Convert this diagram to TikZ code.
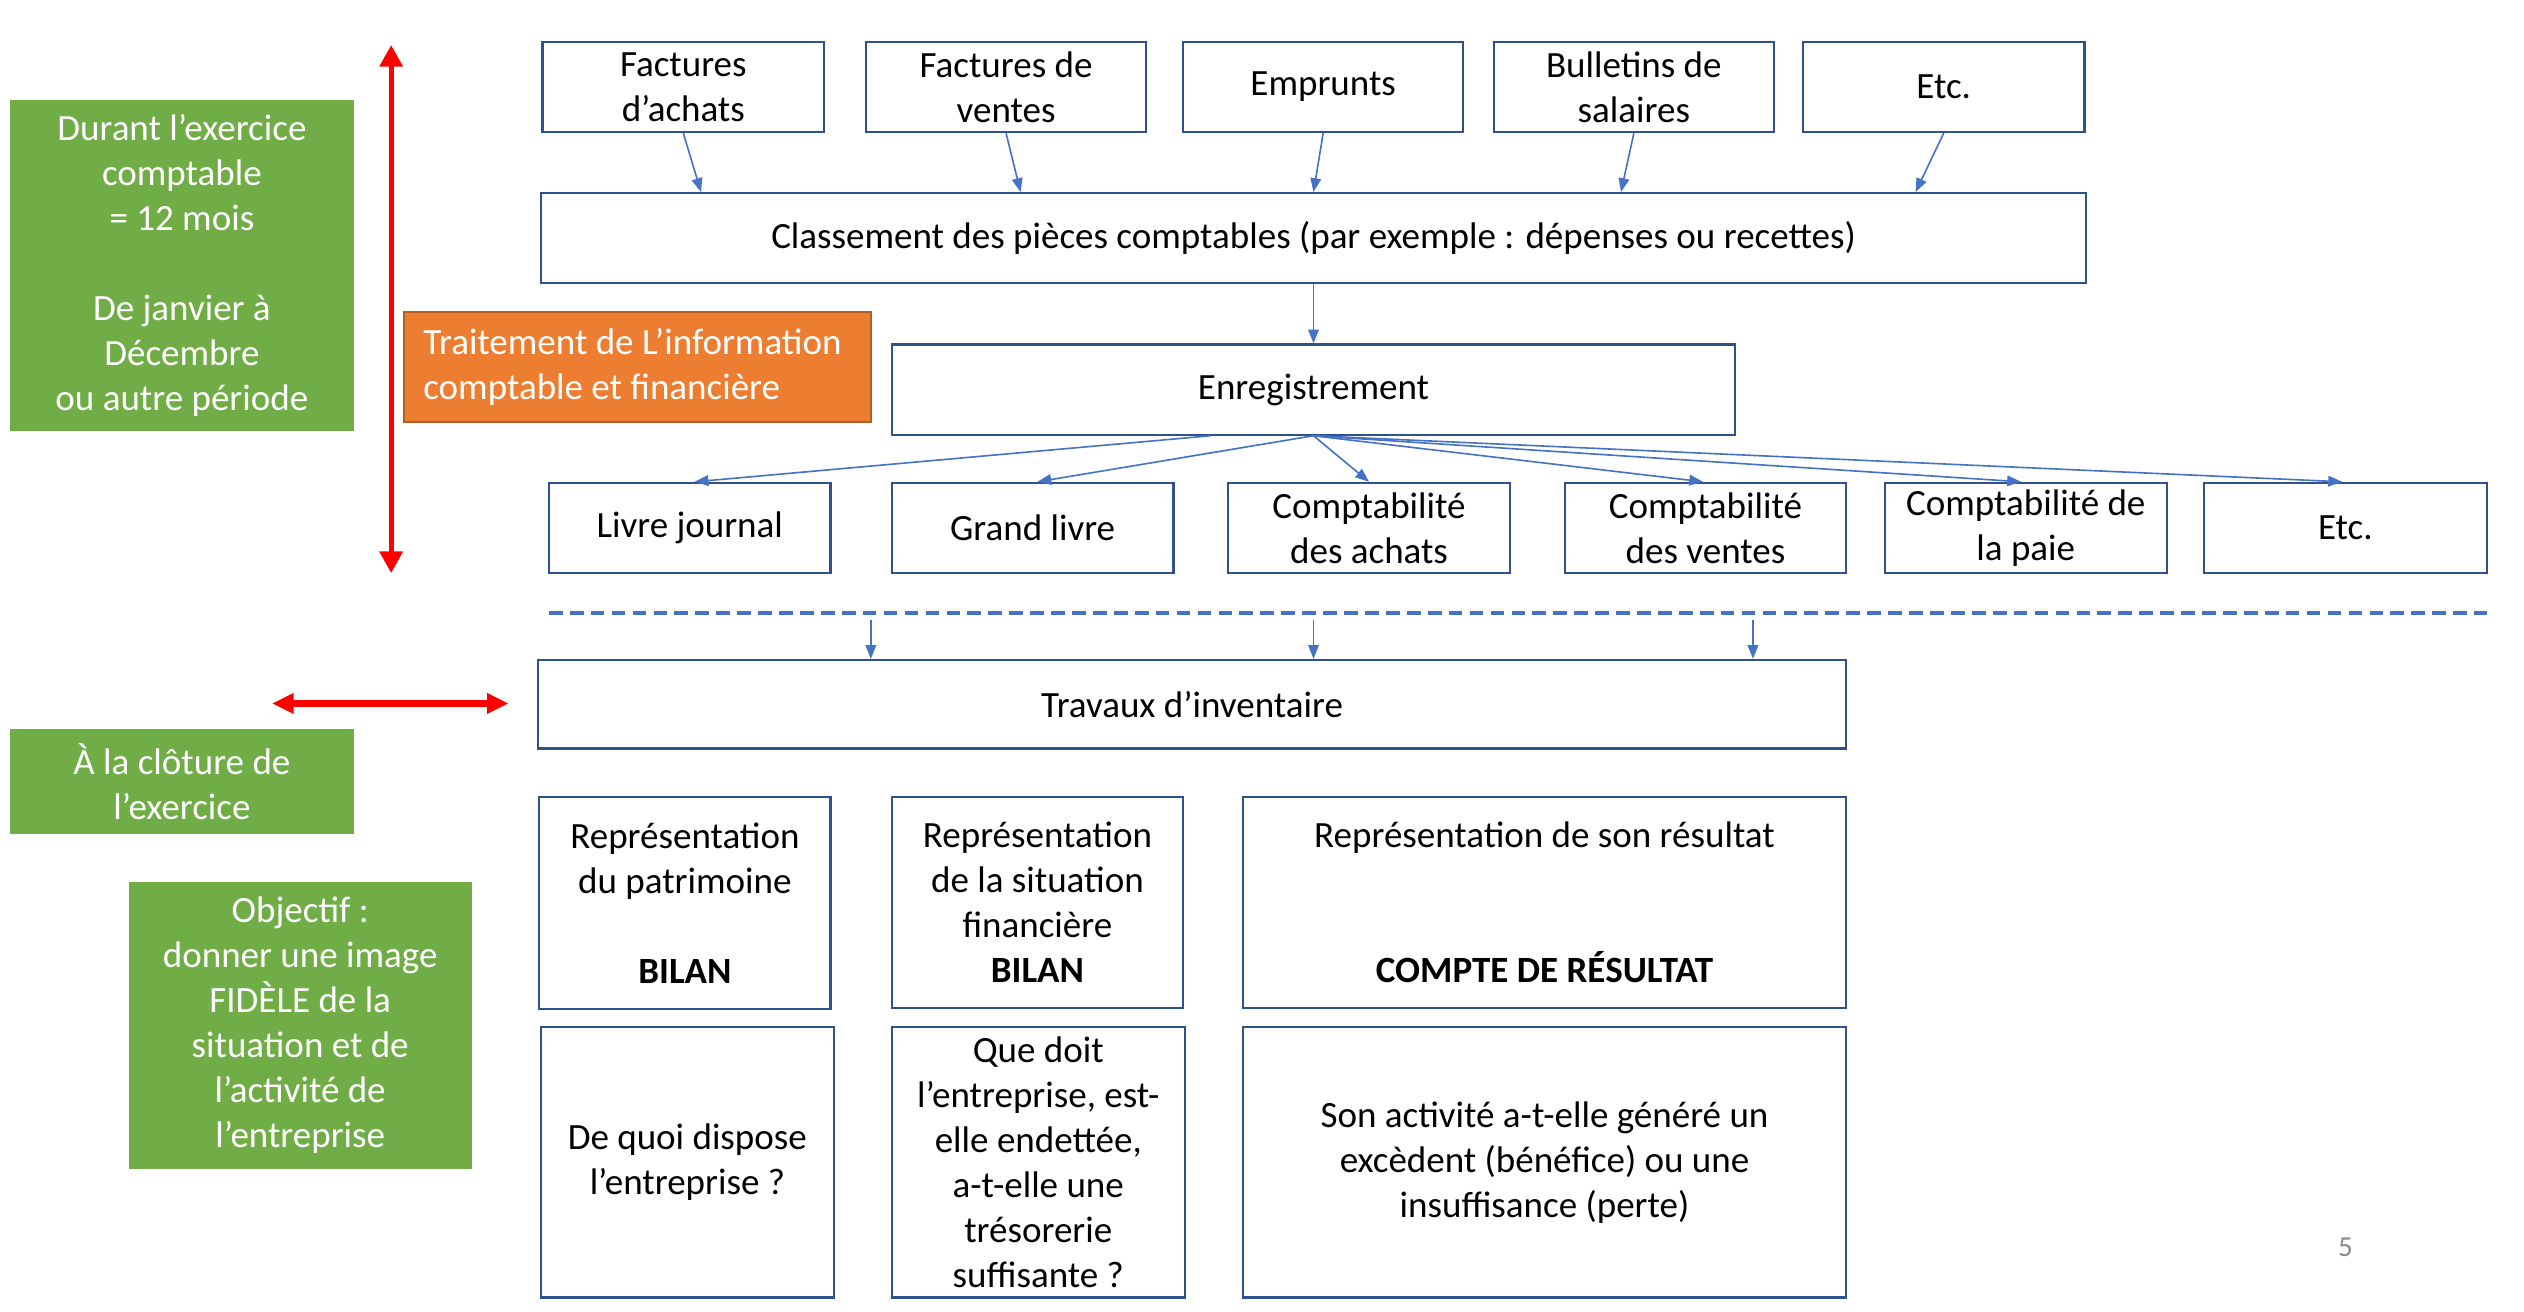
\documentclass[tikz,border=0pt]{standalone}
\usepackage{fontspec}
\setmainfont{Carlito}
\usetikzlibrary{arrows.meta,calc}
\definecolor{bord}{HTML}{2F528F}
\definecolor{arrblue}{HTML}{4472C4}
\definecolor{grn}{HTML}{70AD47}
\definecolor{org}{HTML}{ED7D31}
\definecolor{orgb}{HTML}{B45E22}
\definecolor{pgray}{HTML}{898989}
\begin{document}
\begin{tikzpicture}[x=0.5pt,y=-0.5pt,
  every node/.style={font=\fontsize{11.5}{14}\selectfont, align=center, inner sep=0pt},
  box/.style={draw=bord, line width=0.7pt, fill=white},
  gbox/.style={fill=grn, text=white},
  obox/.style={fill=org, draw=orgb, line width=0.7pt, text=white},
  sz/.style 2 args={minimum width=#1pt, minimum height=#2pt},
  arr/.style={draw=arrblue, line width=0.5pt, -{Triangle[length=4.3pt,width=3.3pt]}},
  redv/.style={draw=red, line width=1.5pt, {Triangle[length=6.7pt,width=7pt]}-{Triangle[length=6.7pt,width=7pt]}},
  redh/.style={draw=red, line width=2pt, {Triangle[length=6.7pt,width=6pt]}-{Triangle[length=6.7pt,width=6pt]}},
  dashline/.style={draw=arrblue, line width=1.3pt, dash pattern=on 4.25pt off 2.25pt}
]
\path[use as bounding box, fill=white] (0,0) rectangle (1568,815);

% green side boxes
\node[gbox, sz={107}{103}] (g1) at (113,165) {Durant l’exercice\\comptable\\= 12 mois\\~\\De janvier à\\Décembre\\ou autre période};
\node[gbox, sz={107}{32.5}] (g2) at (113,485.5) {À la clôture de\\l’exercice};
\node[gbox, sz={106.5}{89}] (g3) at (186.5,637) {Objectif :\\donner une image\\FIDÈLE de la\\situation et de\\l’activité de\\l’entreprise};

% orange box
\node[obox, sz={145}{34}, text width=133pt, align=flush left, inner xsep=6pt] (ob) at (396,228) {Traitement de L’information\\comptable et financière};

% red arrows
\coordinate (rv1) at (243,28);
\coordinate (rv2) at (243,356);
\draw[redv] (rv1) -- (rv2);
\coordinate (rh1) at (169,437);
\coordinate (rh2) at (316,437);
\draw[redh] (rh1) -- (rh2);

% top row
\node[box, sz={87.5}{28}] (fa) at (424.5,54) {Factures\\d’achats};
\node[box, sz={87}{28}] (fv) at (625,54) {Factures de\\ventes};
\node[box, sz={87}{28}] (em) at (822,54) {Emprunts};
\node[box, sz={87}{28}] (bu) at (1015,54) {Bulletins de\\salaires};
\node[box, sz={87.5}{28}] (et1) at (1207.5,54) {Etc.};

\node[box, sz={480}{28}] (cl) at (816,148) {Classement des pièces comptables (par exemple : dépenses ou recettes)};
\node[box, sz={262}{28}] (en) at (816,242) {Enregistrement};

\draw[arr] (fa.south) -- ($(fa.south |- cl.north)+(11,0)$);
\draw[arr] (fv.south) -- ($(fv.south |- cl.north)+(9,0)$);
\draw[arr] (em.south) -- ($(em.south |- cl.north)+(-6,0)$);
\draw[arr] (bu.south) -- ($(bu.south |- cl.north)+(-8,0)$);
\draw[arr] (et1.south) -- ($(et1.south |- cl.north)+(-17.5,0)$);
\draw[arr] (cl.south) -- (en.north);

% second row
\node[box, sz={87.5}{28}] (lj) at (428.5,328) {Livre journal};
\node[box, sz={87.5}{28}] (gl) at (641.5,328) {Grand livre};
\node[box, sz={87.5}{28}] (ca) at (850.5,328) {Comptabilité\\des achats};
\node[box, sz={87.5}{28}] (cv) at (1059.5,328) {Comptabilité\\des ventes};
\node[box, sz={87.5}{28}] (cp) at (1258.5,328) {Comptabilité de\\la paie};
\node[box, sz={88}{28}] (et2) at (1457,328) {Etc.};

\draw[arr] ($(en.south)+(-64,0)$) -- ($(lj.north)+(3,0)$);
\draw[arr] (en.south) -- ($(gl.north)+(3,0)$);
\draw[arr] (en.south) -- (ca.north);
\draw[arr] (en.south) -- ($(cv.north)+(-1.5,0)$);
\draw[arr] (en.south) -- ($(cp.north)+(-3,0)$);
\draw[arr] (en.south) -- ($(et2.north)+(-2,0)$);

% dashed separator
\coordinate (d1) at (341,381);
\coordinate (d2) at (1545,381);
\draw[dashline] (d1) -- (d2);

\node[box, sz={406.5}{27.5}] (tr) at (740.5,437.5) {Travaux d’inventaire};
\coordinate (t1) at (541,385);
\coordinate (t2) at (816,385);
\coordinate (t3) at (1089,385);
\draw[arr] (t1) -- (t1 |- tr.north);
\draw[arr] (t2) -- (t2 |- tr.north);
\draw[arr] (t3) -- (t3 |- tr.north);

% third row
\node[box, sz={90.5}{66}] (ra) at (425.5,561) {Représentation\\du patrimoine\\~\\\textbf{BILAN}};
\node[box, sz={90.5}{65.5}] (rb) at (644.5,560.5) {Représentation\\de la situation\\financière\\\textbf{BILAN}};
\node[box, sz={187.5}{65.5}] (rc) at (959.5,560.5) {Représentation de son résultat\\~\\~\\\textbf{COMPTE DE RÉSULTAT}};

% fourth row
\node[box, sz={91}{84}] (qa) at (427,722) {De quoi dispose\\l’entreprise ?};
\node[box, sz={91}{84}] (qb) at (645,722) {Que doit\\l’entreprise, est-\\elle endettée,\\a-t-elle une\\trésorerie\\suffisante ?};
\node[box, sz={187.5}{84}] (qc) at (959.5,722) {Son activité a-t-elle généré un\\excèdent (bénéfice) ou une\\insuffisance (perte)};

\node[text=pgray, font=\fontsize{9}{11}\selectfont] (pg) at (1457,775) {5};
\end{tikzpicture}
\end{document}
